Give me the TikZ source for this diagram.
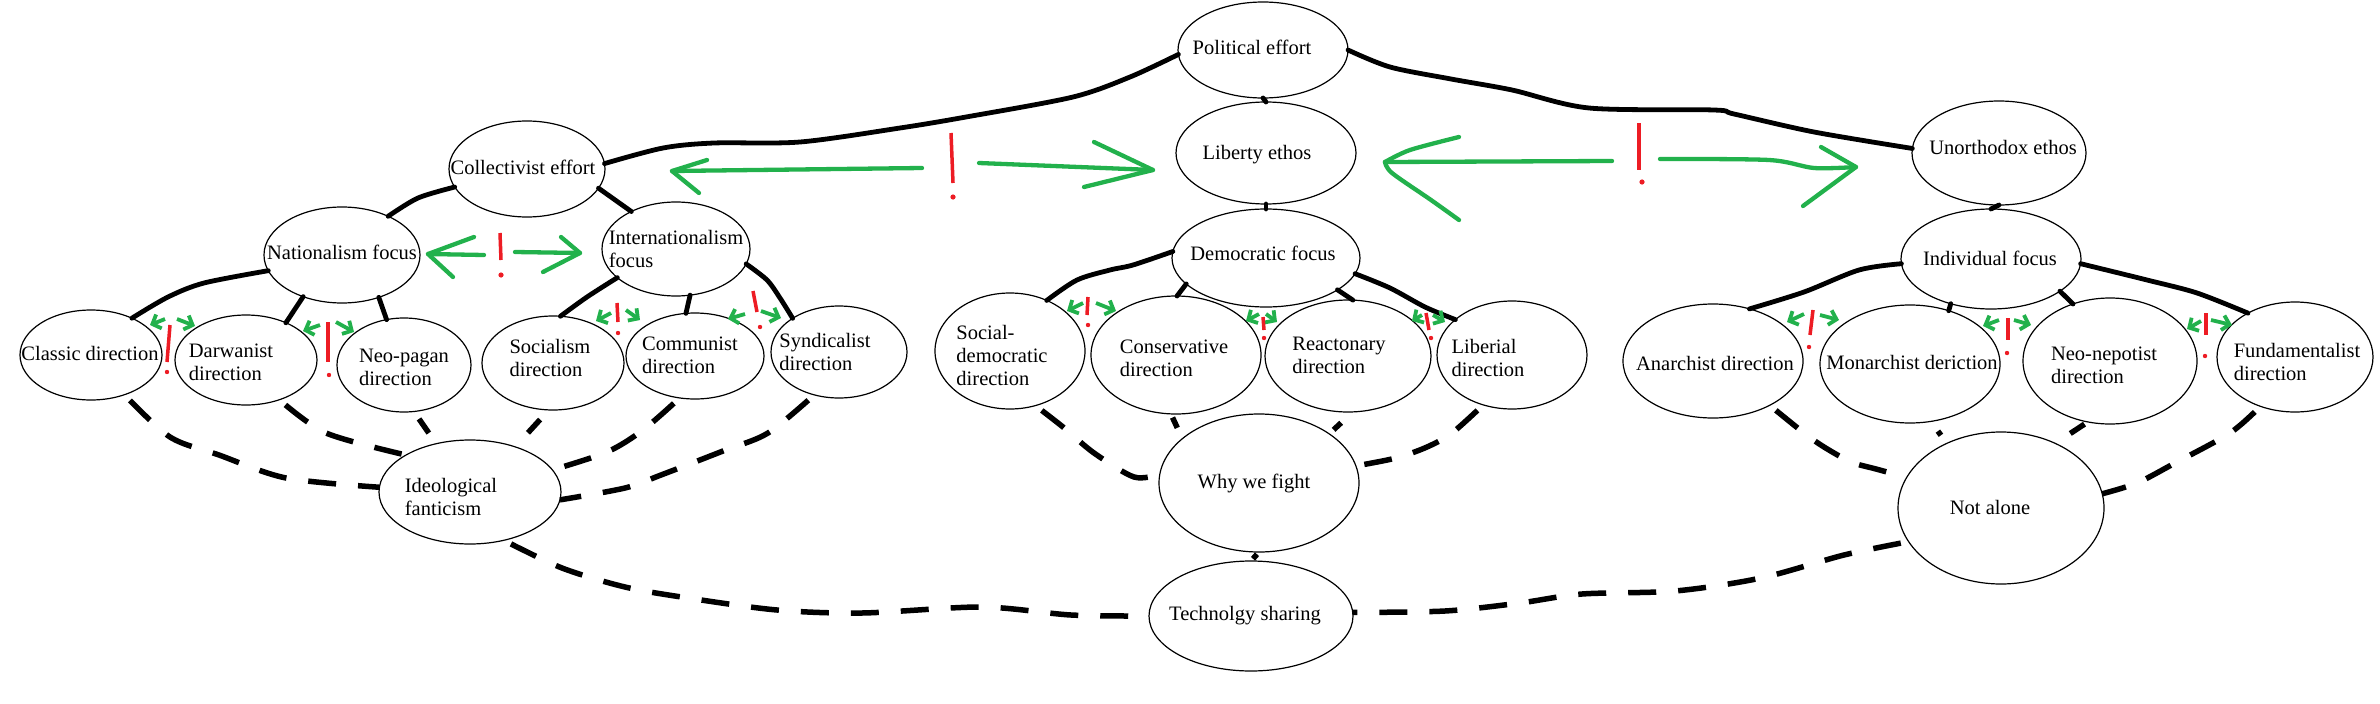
\documentclass[tikz,border=0pt]{standalone}
\usepackage{fontspec}
\setmainfont{Liberation Serif}
\usetikzlibrary{arrows.meta,shapes.geometric}
\definecolor{pgreen}{RGB}{34,177,76}
\definecolor{pred}{RGB}{237,28,36}
\begin{document}
\begin{tikzpicture}[x=1pt,y=-1pt,
  ell/.style={draw, ellipse, line width=1.2pt, inner sep=0pt, outer sep=0pt},
  lbl/.style={inner sep=0pt, align=left, font=\rmfamily\fontsize{20.5}{23}\selectfont},
  conn/.style={line width=4.8pt, line cap=round, line join=round},
  dconn/.style={line width=5.5pt, line join=round, dash pattern=on 28pt off 22pt, dash phase=42pt},
  dseg/.style={line width=5.5pt},
  garr/.style={pgreen, line width=4.3pt, line cap=round, line join=round},
  gsmall/.style={pgreen, line width=3.8pt, -{Straight Barb[length=7pt,width=15pt]}},
  rbar/.style={pred, line width=3.5pt}
]
\fill[white] (0,0) rectangle (2380,704);
\useasboundingbox (0,0) rectangle (2380,704);

% ---- ellipses ----
\node[ell, minimum width=170pt, minimum height=96pt]  (pe)  at (1263,50)  {};
\node[ell, minimum width=180pt, minimum height=102pt] (le)  at (1266,153) {};
\node[ell, minimum width=188pt, minimum height=98pt]  (df)  at (1266,258) {};
\node[ell, minimum width=156pt, minimum height=96pt]  (ce)  at (527,169)  {};
\node[ell, minimum width=156pt, minimum height=96pt]  (nf)  at (342,255)  {};
\node[ell, minimum width=148pt, minimum height=94pt]  (inf) at (676,249)  {};
\node[ell, minimum width=142pt, minimum height=90pt]  (cd)  at (91,355)   {};
\node[ell, minimum width=142pt, minimum height=90pt]  (dd)  at (246,360)  {};
\node[ell, minimum width=134pt, minimum height=94pt]  (npd) at (404,365)  {};
\node[ell, minimum width=142pt, minimum height=94pt]  (sd)  at (553,363)  {};
\node[ell, minimum width=138pt, minimum height=86pt]  (cmd) at (695,356)  {};
\node[ell, minimum width=136pt, minimum height=92pt]  (syd) at (839,352)  {};
\node[ell, minimum width=150pt, minimum height=116pt] (sdd) at (1010,351) {};
\node[ell, minimum width=170pt, minimum height=118pt] (cvd) at (1176,355) {};
\node[ell, minimum width=166pt, minimum height=112pt] (rd)  at (1348,356) {};
\node[ell, minimum width=150pt, minimum height=108pt] (ld)  at (1512,355) {};
\node[ell, minimum width=174pt, minimum height=104pt] (ue)  at (1999,153) {};
\node[ell, minimum width=180pt, minimum height=100pt] (ifo) at (1991,259) {};
\node[ell, minimum width=180pt, minimum height=114pt] (ad)  at (1713,361) {};
\node[ell, minimum width=180pt, minimum height=118pt] (md)  at (1910,364) {};
\node[ell, minimum width=174pt, minimum height=126pt] (nnd) at (2110,361) {};
\node[ell, minimum width=156pt, minimum height=110pt] (fd)  at (2295,357) {};
\node[ell, minimum width=206pt, minimum height=152pt] (na)  at (2001,508) {};
\node[ell, minimum width=182pt, minimum height=104pt] (ifz) at (470,492)  {};
\node[ell, minimum width=200pt, minimum height=138pt] (wf)  at (1259,483) {};
\node[ell, minimum width=204pt, minimum height=110pt] (ts)  at (1251,616) {};

% ---- texts ----
\node[lbl] (pe-t)  at (1252,47)  {Political effort};
\node[lbl] (le-t)  at (1257,155) {Liberty ethos};
\node[lbl] (df-t)  at (1263,253) {Democratic focus};
\node[lbl] (ce-t)  at (523,167)  {Collectivist effort};
\node[lbl] (nf-t)  at (342,252)  {Nationalism focus};
\node[lbl] (inf-t) at (676,249)  {Internationalism\\focus};
\node[lbl] (cd-t)  at (90,353)   {Classic direction};
\node[lbl] (dd-t)  at (231,362)  {Darwanist\\direction};
\node[lbl] (npd-t) at (404,367)  {Neo-pagan\\direction};
\node[lbl] (sd-t)  at (550,358)  {Socialism\\direction};
\node[lbl] (cmd-t) at (690,355)  {Communist\\direction};
\node[lbl] (syd-t) at (825,352)  {Syndicalist\\direction};
\node[lbl] (sdd-t) at (1002,355) {Social-\\democratic\\direction};
\node[lbl] (cvd-t) at (1174,358) {Conservative\\direction};
\node[lbl] (rd-t)  at (1339,355) {Reactonary\\direction};
\node[lbl] (ld-t)  at (1488,358) {Liberial\\direction};
\node[lbl] (ue-t)  at (2003,147) {Unorthodox ethos};
\node[lbl] (ifo-t) at (1990,258) {Individual focus};
\node[lbl] (ad-t)  at (1715,363) {Anarchist direction};
\node[lbl] (md-t)  at (1912,362) {Monarchist deriction};
\node[lbl] (nnd-t) at (2104,365) {Neo-nepotist\\direction};
\node[lbl] (fd-t)  at (2297,362) {Fundamentalist\\direction};
\node[lbl] (na-t)  at (1990,507) {Not alone};
\node[lbl] (ifz-t) at (451,497)  {Ideological\\fanticism};
\node[lbl] (wf-t)  at (1254,483) {Why we fight};
\node[lbl] (ts-t)  at (1245,616) {Technolgy sharing};

% ---- solid connectors ----
\draw[conn] plot[smooth] coordinates {(pe.183) (1130,77) (1073,97) (966,117) (900,128) (800,142) (714,143) (663,148) (ce.4)};
\draw[conn] plot[smooth] coordinates {(pe.0) (1390,67) (1451,79) (1512,90) (1589,108) (1714,110) (1734,114) (1814,132) (ue.177)};
\draw[conn] (pe.south) -- (le.north);
\draw[conn] (le.south) -- (df.north);
\draw[conn] (ue.south) -- (ifo.north);
\draw[conn] plot[smooth] coordinates {(ce.194) (418,198) (nf.40)};
\draw[conn] (ce.345) -- (inf.140);
\draw[conn] plot[smooth] coordinates {(nf.192) (204,283) (168,297) (cd.42)};
\draw[conn] (nf.227) -- (dd.43);
\draw[conn] (nf.311) -- (npd.111);
\draw[conn] plot[smooth] coordinates {(inf.206) (587,297) (sd.81)};
\draw[conn] (inf.287) -- (cmd.102);
\draw[conn] plot[smooth] coordinates {(inf.348) (767,280) (780,298) (syd.144)};
\draw[conn] plot[smooth] coordinates {(df.176) (1133,265) (1110,270) (1077,280) (sdd.54)};
\draw[conn] (df.198) -- (cvd.89);
\draw[conn] (df.336) -- (rd.85);
\draw[conn] plot[smooth] coordinates {(df.350) (1390,288) (1425,307) (ld.148)};
\draw[conn] plot[smooth] coordinates {(ifo.183) (1859,270) (1804,292) (ad.55)};
\draw[conn] (ifo.228) -- (md.54);
\draw[conn] (ifo.335) -- (nnd.123);
\draw[conn] plot[smooth] coordinates {(ifo.357) (2147,280) (2197,293) (fd.137)};

% ---- dashed connectors ----
\draw[dconn] plot[smooth] coordinates {(cd.310) (170,437) (219,455) (286,478) (ifz.177)};
\draw[dconn] plot[smooth] coordinates {(dd.310) (326,433) (ifz.150)};
\draw[dseg, shorten <=9pt, shorten >=13pt] (npd.282) -- (ifz.125);
\draw[dseg, shorten <=13pt, shorten >=19pt] (sd.265) -- (ifz.45);
\draw[dconn] plot[smooth] coordinates {(cmd.250) (643,430) (607,452) (ifz.15)};
\draw[dconn] plot[smooth] coordinates {(syd.240) (768,433) (723,451) (661,475) (625,488) (ifz.355)};
\draw[dconn] plot[smooth] coordinates {(ifz.305) (562,568) (625,587) (688,598) (777,610) (862,613) (982,607) (1071,615) (ts.180)};
\draw[dconn] plot[smooth] coordinates {(sdd.295) (1063,427) (1094,453) (1134,477) (wf.175)};
\draw[dseg, shorten <=4pt, shorten >=12pt] (cvd.265) -- (wf.150);
\draw[dseg, shorten <=16pt, shorten >=6pt] (rd.275) -- (wf.35);
\draw[dconn] plot[smooth] coordinates {(ld.240) (1452,433) (1427,447) (1396,458) (wf.10)};
\draw[dseg, shorten <=3pt, shorten >=3pt] (wf.south) -- (ts.north);
\draw[dconn] plot[smooth] coordinates {(ad.322) (1804,433) (1824,447) (1851,462) (1876,469) (na.162)};
\draw[dseg, shorten <=12pt, shorten >=10pt] (md.290) -- (na.130);
\draw[dseg, shorten <=4pt, shorten >=18pt] (nnd.250) -- (na.50);
\draw[dconn] plot[smooth] coordinates {(fd.235) (2230,433) (2175,463) (2137,483) (na.8)};
\draw[dconn] plot[smooth] coordinates {(na.200) (1844,555) (1761,578) (1675,591) (1582,594) (1520,603) (1445,611) (ts.2)};

% ---- big green arrows and red marks ----
\draw[garr] (922,168) -- (672,171);
\draw[garr] (707,160) -- (672,171) -- (699,193);
\draw[garr] (979,163) -- (1153,170);
\draw[garr] (1094,142) -- (1153,170) -- (1084,187);
\draw[rbar] (951,133) -- (953,183);
\fill[pred] (953,197) circle (2.6pt);

\draw[garr] (1612,161) -- (1385,162);
\draw[garr] plot[smooth] coordinates {(1459,137) (1410,150) (1385,162)};
\draw[garr] plot[smooth] coordinates {(1385,162) (1392,173) (1431,200) (1459,220)};
\draw[garr] plot[smooth] coordinates {(1660,159) (1769,160) (1814,168) (1856,167)};
\draw[garr] (1821,147) -- (1856,167) -- (1803,206);
\draw[rbar] (1639,123) -- (1639,170);
\fill[pred] (1642,182) circle (2.6pt);

\draw[garr] (484,255) -- (428,254);
\draw[garr] (474,237) -- (428,254) -- (453,277);
\draw[garr] (515,252) -- (580,253);
\draw[garr] (561,237) -- (580,253) -- (543,272);
\draw[rbar] (500,233) -- (501,260);
\fill[pred] (501,275) circle (2.6pt);

% ---- small arrows and marks ----
\draw[gsmall] (165,319) -- (150,325);  \draw[gsmall] (177,319) -- (195,326);
\draw[rbar] (170,325) -- (167,362); \fill[pred] (167,372) circle (2.2pt);
\draw[gsmall] (320,325) -- (303,331);  \draw[gsmall] (336,322) -- (354,332);
\draw[rbar] (328,322) -- (328,362); \fill[pred] (329,375) circle (2.2pt);
\draw[gsmall] (611,313) -- (596,321);  \draw[gsmall] (626,310) -- (640,320);
\draw[rbar] (617,303) -- (618,322); \fill[pred] (618,333) circle (2.2pt);
\draw[gsmall] (745,314) -- (728,319);  \draw[gsmall] (761,311) -- (781,318);
\draw[rbar] (753,291) -- (757,312); \fill[pred] (760,327) circle (2.2pt);
\draw[gsmall] (1083,303) -- (1067,311); \draw[gsmall] (1096,303) -- (1116,311);
\draw[rbar] (1088,297) -- (1087,315); \fill[pred] (1088,325) circle (2.2pt);
\draw[gsmall] (1259,314) -- (1246,321); \draw[gsmall] (1266,314) -- (1277,322);
\draw[rbar] (1263,317) -- (1264,330); \fill[pred] (1264,338) circle (2.2pt);
\draw[gsmall] (1422,315) -- (1412,321); \draw[gsmall] (1433,315) -- (1445,322);
\draw[rbar] (1426,313) -- (1429,330); \fill[pred] (1431,338) circle (2.2pt);
\draw[gsmall] (1804,314) -- (1787,322); \draw[gsmall] (1820,315) -- (1839,320);
\draw[rbar] (1813,310) -- (1810,335); \fill[pred] (1809,347) circle (2.2pt);
\draw[gsmall] (1999,320) -- (1983,326); \draw[gsmall] (2014,320) -- (2031,325);
\draw[rbar] (2008,318) -- (2008,340); \fill[pred] (2007,353) circle (2.2pt);
\draw[gsmall] (2201,321) -- (2187,329); \draw[gsmall] (2211,320) -- (2232,325);
\draw[rbar] (2206,313) -- (2206,335); \fill[pred] (2205,356) circle (2.2pt);
\end{tikzpicture}
\end{document}
